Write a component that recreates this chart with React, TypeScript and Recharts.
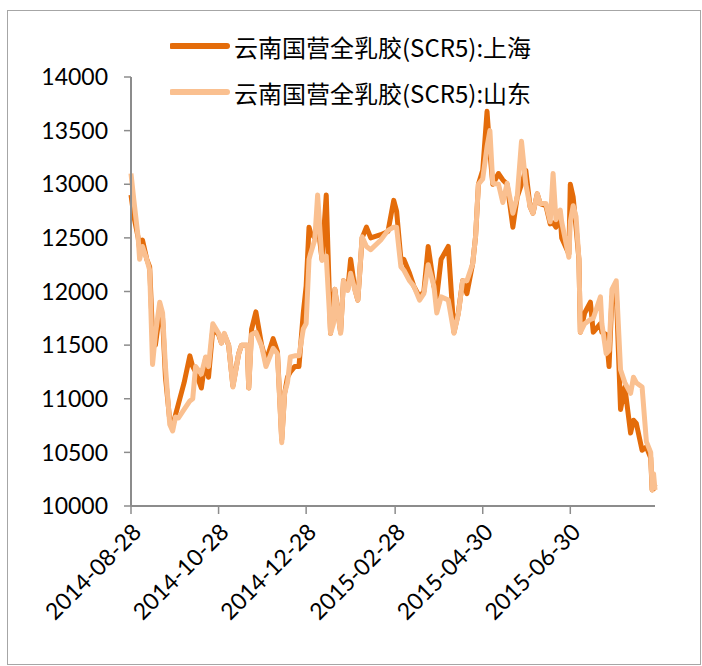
import React from 'react';
import { LineChart, Line, XAxis, YAxis, Legend } from 'recharts';

const dates = [
  '2014-08-28','2014-08-30','2014-09-02','2014-09-03','2014-09-05','2014-09-08','2014-09-10','2014-09-12','2014-09-14','2014-09-17',
  '2014-09-19','2014-09-21','2014-09-24','2014-09-26','2014-09-28','2014-09-30','2014-10-04','2014-10-08','2014-10-10','2014-10-12',
  '2014-10-16','2014-10-19','2014-10-21','2014-10-24','2014-10-28','2014-10-30','2014-11-01','2014-11-04','2014-11-07','2014-11-11',
  '2014-11-13','2014-11-17','2014-11-18','2014-11-20','2014-11-23','2014-11-27','2014-11-30','2014-12-05','2014-12-08','2014-12-11',
  '2014-12-13','2014-12-15','2014-12-17','2014-12-20','2014-12-23','2014-12-26','2014-12-28','2014-12-30','2014-12-31','2015-01-03',
  '2015-01-05','2015-01-08','2015-01-11','2015-01-14','2015-01-16','2015-01-17','2015-01-21','2015-01-23','2015-01-26','2015-01-28',
  '2015-01-31','2015-02-02','2015-02-05','2015-02-08','2015-02-11','2015-02-18','2015-02-23','2015-02-27','2015-03-01','2015-03-04',
  '2015-03-06','2015-03-10','2015-03-13','2015-03-17','2015-03-20','2015-03-23','2015-03-27','2015-03-29','2015-04-01','2015-04-06',
  '2015-04-10','2015-04-13','2015-04-16','2015-04-19','2015-04-23','2015-04-25','2015-04-27','2015-04-30','2015-05-03','2015-05-05',
  '2015-05-07','2015-05-11','2015-05-14','2015-05-17','2015-05-21','2015-05-24','2015-05-27','2015-05-30','2015-06-02','2015-06-04',
  '2015-06-07','2015-06-09','2015-06-13','2015-06-16','2015-06-18','2015-06-20','2015-06-23','2015-06-24','2015-06-29','2015-06-30',
  '2015-07-02','2015-07-04','2015-07-06','2015-07-07','2015-07-10','2015-07-14','2015-07-16','2015-07-21','2015-07-22','2015-07-25',
  '2015-07-27','2015-07-29','2015-08-01','2015-08-04','2015-08-07','2015-08-11','2015-08-13','2015-08-15','2015-08-19','2015-08-22',
  '2015-08-25','2015-08-26','2015-08-27','2015-08-28'
];

const shanghai = [
  12900,12700,12500,12400,12480,12300,12230,11600,11500,11800,
  11750,11200,10800,10750,10850,10950,11150,11400,11300,11250,
  11100,11380,11200,11650,11600,11520,11600,11500,11120,11420,
  11500,11500,11100,11650,11810,11500,11350,11560,11440,10620,
  11050,11200,11250,11300,11300,11800,12050,12600,12550,12500,
  12650,12300,12900,11610,11950,12020,11620,12100,12020,12300,
  12020,11920,12500,12600,12500,12530,12560,12850,12750,12300,
  12300,12170,12050,11950,12000,12420,12050,11950,12300,12420,
  11620,11800,12100,11980,12260,12510,13000,13130,13680,13300,
  13000,13100,13040,13000,12600,12880,13000,13130,12790,12730,
  12910,12820,12800,12630,12640,12600,12700,12500,12350,13000,
  12880,12600,12300,11620,11800,11900,11620,11700,11620,11600,
  11300,11950,12000,10900,11110,10680,10800,10770,10520,10550,
  10450,10150,10160,10200
];

const shandong = [
  13100,12850,12500,12300,12420,12300,12200,11320,11600,11900,
  11800,11300,10760,10700,10830,10820,10900,10980,11000,11300,
  11230,11390,11300,11700,11610,11520,11610,11500,11110,11420,
  11500,11500,11100,11600,11620,11490,11300,11470,11420,10590,
  11050,11150,11390,11400,11400,11650,11700,12300,12350,12480,
  12900,12290,12330,11610,11700,12020,11610,12100,12010,12170,
  12010,11920,12510,12420,12390,12480,12570,12600,12600,12230,
  12200,12100,12050,11920,11980,12250,12050,11800,11950,11920,
  11610,11790,12100,12100,12260,12510,13000,13050,13350,13500,
  13010,13000,12830,13010,12730,12880,13400,13000,12790,12730,
  12910,12820,12820,12650,13100,12670,12760,12650,12320,12650,
  12800,12700,12300,11620,11700,11740,11750,11950,11700,11420,
  11450,12020,12100,11270,11150,11050,11200,11150,11110,10600,
  10500,10150,10300,10150
];

const seriesNames = ['云南国营全乳胶(SCR5):上海', '云南国营全乳胶(SCR5):山东'];
const seriesColors = ['#E46C0A', '#FAC090'];
const yTicks = [10000, 10500, 11000, 11500, 12000, 12500, 13000, 13500, 14000];
const xTickLabels = ['2014-08-28', '2014-10-28', '2014-12-28', '2015-02-28', '2015-04-30', '2015-06-30'];
const startDate = '2014-08-28';
const endDate = '2015-08-28';

const DAY = 86400000;
const toUTC = (s: string) => {
  const [y, m, d] = s.split('-').map(Number);
  return Date.UTC(y, m - 1, d);
};
const base = toUTC(startDate);
const toDay = (s: string) => Math.round((toUTC(s) - base) / DAY);

const data = dates.map((d, i) => ({ day: toDay(d), sh: shanghai[i], sd: shandong[i] }));
const xTicks = xTickLabels.map(toDay);
const labelByDay: Record<number, string> = {};
xTickLabels.forEach((l) => { labelByDay[toDay(l)] = l; });

const FONT = 'Lato, "Noto Sans", sans-serif';

const XTick = (props: any) => {
  const { x, y, payload } = props;
  const label = labelByDay[payload.value] ?? '';
  return (
    <g transform={`translate(${x + 6},${y + 12})`}>
      <text textAnchor="end" transform="rotate(-45)" fontSize={23} fontFamily={FONT} fill="#000" dy={8}>
        {label}
      </text>
    </g>
  );
};

const renderLegend = () => (
  <div style={{ position: 'relative', width: 420, height: 90 }}>
    {seriesNames.map((n, i) => (
      <div key={n} style={{ position: 'absolute', left: 0, top: i * 46, height: 40, display: 'flex', alignItems: 'center' }}>
        <svg width={60} height={10} style={{ display: 'block' }}>
          <line x1={2} y1={5} x2={57} y2={5} stroke={seriesColors[i]} strokeWidth={6} strokeLinecap="round" />
        </svg>
        <span style={{ marginLeft: 4, fontSize: 24, fontFamily: '"Noto Sans CJK SC", sans-serif', color: '#000', whiteSpace: 'nowrap' }}>{n}</span>
      </div>
    ))}
  </div>
);

export default function App() {
  return (
    <div style={{ position: 'absolute', left: 0, top: 0, width: 702, height: 666, background: '#fff' }}>
      <div style={{ position: 'absolute', left: 7, top: 10, width: 694, height: 655, border: '1.5px solid #a6a6a6', boxSizing: 'border-box' }} />
      <div style={{ position: 'absolute', left: 0, top: 0 }}>
        <LineChart width={702} height={666} data={data} margin={{ top: 77, right: 47, bottom: 60, left: 71 }}>
          <XAxis
            type="number"
            dataKey="day"
            domain={[0, toDay(endDate)]}
            ticks={xTicks}
            interval={0}
            height={100}
            tickSize={8}
            tick={<XTick />}
            axisLine={{ stroke: '#8c8c8c', strokeWidth: 2 }}
            tickLine={{ stroke: '#8c8c8c', strokeWidth: 1.5 }}
          />
          <YAxis
            type="number"
            domain={[10000, 14000]}
            ticks={yTicks}
            interval={0}
            width={60}
            tickSize={7}
            tickMargin={16}
            tick={{ fontSize: 23, fontFamily: FONT, fill: '#000' }}
            axisLine={{ stroke: '#8c8c8c', strokeWidth: 2 }}
            tickLine={{ stroke: '#8c8c8c', strokeWidth: 1.5 }}
          />
          <Legend
            layout="horizontal"
            verticalAlign="middle"
            align="center"
            content={renderLegend}
            wrapperStyle={{ left: 170, top: 26, width: 420, height: 90 }}
          />
          <Line type="linear" dataKey="sh" name={seriesNames[0]} stroke={seriesColors[0]} strokeWidth={5} dot={false} strokeLinejoin="round" isAnimationActive={false} />
          <Line type="linear" dataKey="sd" name={seriesNames[1]} stroke={seriesColors[1]} strokeWidth={5} dot={false} strokeLinejoin="round" isAnimationActive={false} />
        </LineChart>
      </div>
    </div>
  );
}
